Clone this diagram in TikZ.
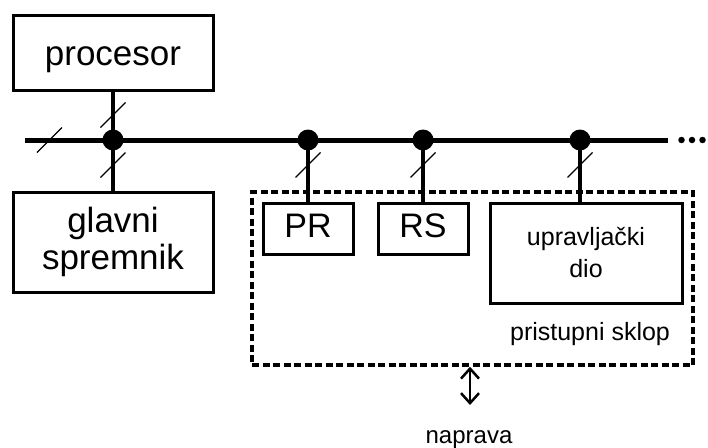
\documentclass[tikz,border=0pt]{standalone}
\usepackage{fontspec}
\setmainfont{Liberation Sans}
\usetikzlibrary{arrows.meta,calc}
\begin{document}
\begin{tikzpicture}[x=1pt,y=-1pt,
  box/.style={draw,line width=3pt,inner sep=0pt,align=center},
  bigtxt/.style={font=\fontsize{35}{37}\selectfont},
  smalltxt/.style={font=\fontsize{25}{32}\selectfont},
  wire/.style={line width=3.5pt},
  bus/.style={line width=5pt},
  slash/.style={line width=1.3pt},
  joint/.style={circle,fill=black,inner sep=0pt,minimum size=21pt},
  dotend/.style={circle,fill=black,inner sep=0pt,minimum size=6.5pt},
  groupbox/.style={draw,line width=3.5pt,dash pattern=on 7pt off 3.5pt,inner sep=0pt},
  biarrow/.style={line width=2.5pt,{Straight Barb[length=10pt,width=18pt]}-{Straight Barb[length=10pt,width=18pt]}}
]
\useasboundingbox (0,0) rectangle (708,447);

% boxes
\node[box,bigtxt,minimum width=200pt,minimum height=75pt,text height=26pt,text depth=0pt] (proc) at (113,52.5) {procesor};
\node[box,bigtxt,minimum width=200pt,minimum height=100pt] (glav) at (113,242) {glavni\\spremnik};
\node[groupbox,minimum width=441pt,minimum height=173pt] (grp) at (472.5,278.5) {};
\node[box,bigtxt,font=\fontsize{34}{37}\selectfont,minimum width=90pt,minimum height=51pt,text height=24pt,text depth=7pt] (pr) at (308,228.5) {PR};
\node[box,bigtxt,font=\fontsize{34}{37}\selectfont,minimum width=90pt,minimum height=51pt,text height=24pt,text depth=7pt] (rs) at (423,228.5) {RS};
\node[box,smalltxt,minimum width=192pt,minimum height=100pt] (upr) at (586,253) {upravljački\\dio};
\node[smalltxt,anchor=base,inner sep=0pt] (sklop) at (590,340) {pristupni sklop};
\node[smalltxt,font=\fontsize{24}{30}\selectfont,anchor=base,inner sep=0pt] (nap) at (469,443) {naprava};

% bus
\coordinate (busL) at (25,140);
\coordinate (busR) at (668,140);
\draw[bus] (busL) -- (busR);
\node[dotend] (d1) at (681.5,140) {};
\node[dotend] (d2) at (692,140) {};
\node[dotend] (d3) at (702.5,140) {};

% joints
\node[joint] (j1) at (113,140) {};
\node[joint] (j2) at (308,140) {};
\node[joint] (j3) at (423,140) {};
\node[joint] (j4) at (580,140) {};

% wires
\draw[wire] (proc.south) -- (glav.north);
\draw[wire] (j2.center) -- (pr.north);
\draw[wire] (j3.center) -- (rs.north);
\draw[wire] (j4.center) -- (j4 |- upr.north);

% slashes
\draw[slash] (49.5,140) +(-12.5,12.5) -- +(12.5,-12.5);
\draw[slash] ($(j1)+(0,-25)$) +(-12.5,12.5) -- +(12.5,-12.5);
\draw[slash] ($(j1)+(0,25)$) +(-12.5,12.5) -- +(12.5,-12.5);
\draw[slash] ($(j2)+(0,25)$) +(-12.5,12.5) -- +(12.5,-12.5);
\draw[slash] ($(j3)+(0,25)$) +(-12.5,12.5) -- +(12.5,-12.5);
\draw[slash] ($(j4)+(0,25)$) +(-12.5,12.5) -- +(12.5,-12.5);

% arrow to device
\coordinate (arrB) at (470,405);
\draw[biarrow] (grp.south -| arrB) -- (arrB);
\end{tikzpicture}
\end{document}
